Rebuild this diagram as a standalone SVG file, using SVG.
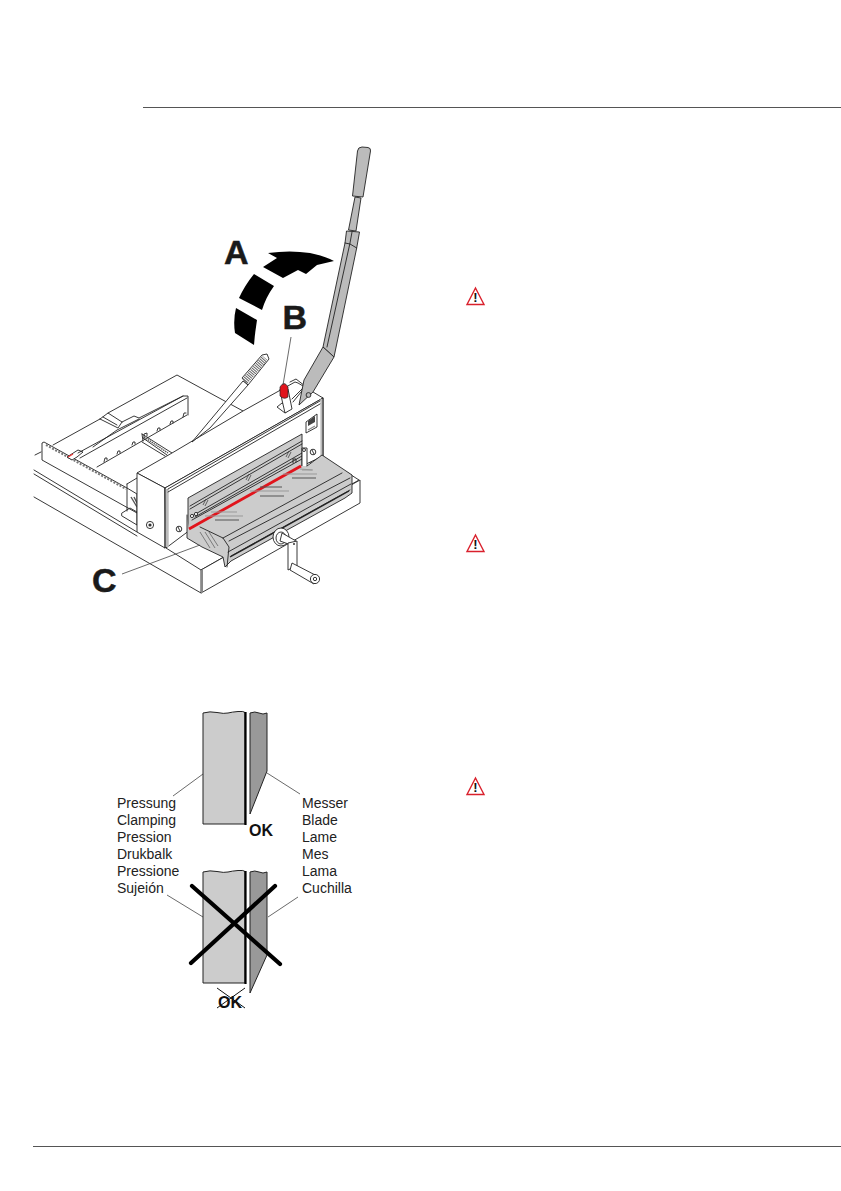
<svg xmlns="http://www.w3.org/2000/svg" width="841" height="1191" viewBox="0 0 841 1191">
<style>
.l{fill:none;stroke:#222;stroke-width:.9;stroke-linejoin:round;stroke-linecap:round}
.t{fill:none;stroke:#444;stroke-width:.8}
.w{fill:#fff;stroke:#222;stroke-width:.9;stroke-linejoin:round}
.g{fill:#bbb;stroke:#222;stroke-width:.9;stroke-linejoin:round}
.k{fill:#000;stroke:none}
.big{font-family:"Liberation Sans",Arial,sans-serif;font-weight:700;font-size:34px;fill:#1a1a1a;stroke:#1a1a1a;stroke-width:.5}
.lab{font-family:"Liberation Sans",Arial,sans-serif;font-size:14px;fill:#222}
.ok{font-family:"Liberation Sans",Arial,sans-serif;font-weight:700;font-size:16px;fill:#111}
.x{stroke:#000;stroke-width:4.2;stroke-linecap:round;fill:none}
.tri{fill:#fff;stroke:#d9202c;stroke-width:1.4;stroke-linejoin:miter}
.ex{font-family:"Liberation Sans",Arial,sans-serif;font-weight:700;font-size:13px;fill:#111;text-anchor:middle}
</style>
<defs>
<g id="warn"><polygon class="tri" points="475.5,288 484,304.5 467,304.500"/><text class="ex" x="475.500" y="302">!</text></g>
</defs>

<g id="rules" stroke="#555" stroke-width="1">
<line x1="143" y1="107.500" x2="841" y2="107.500"/>
<line x1="33" y1="1146.500" x2="841" y2="1146.500"/>
</g>

<g id="machine">
<!-- back table and rails -->
<path class="l" d="M35 455L41 452M53 445L100 419M108 413L177 375L243 411M34 470L137 532M34 474L137 536M34 497L201 593"/>
<!-- fence -->
<path class="w" d="M42 443L44 442L127 488L137 494V513L42 460Z"/>
<path d="M46 445L126 489" stroke="#777" stroke-width="2" stroke-dasharray="2 1.500" fill="none"/>
<path class="w" d="M67 457L78 450L83 452L77 457L72 460Z"/>
<path d="M68 457L73 454" stroke="#e33" stroke-width="1.300"/>
<!-- gauge -->
<path class="l" d="M100 419L118 428L122 422L134 416L139 418L183 396L188 396V415M100 419L108 413L122 422M103 417L117 425"/>
<path class="l" d="M78 453L183 396M80 458L187 398M93 447L117 430L139 419M97 467L187 415"/>
<path class="l" d="M104 462L105 458H107V460M117 454L118 451H120V453M132 445L133 442H135V444M144 438V434L147 433V436M157 431L158 428H160V430M170 424L171 421H173V423M183 417L184 413H186"/>
<path class="l" d="M142 434L172 453M143 438L167 455M142 442L165 456M142 434L143 441"/>
<path d="M144 437L168 453" stroke="#555" stroke-width="1.400" stroke-dasharray="1.500 .8" fill="none"/>
<path class="l" d="M127 484L137 478M127 484V511M122 513L130 508L137 512V525L122 516Z"/>
<path d="M131 497L137 507M134 497L137 503" stroke="#555" stroke-width="1.400" fill="none"/>
<!-- base -->
<path class="w" d="M166 548L201 570L359 480L348 473L300 460L166 540Z"/>
<path class="w" d="M201 570V593L360 503V480L201 570Z"/>
<line x1="202" y1="570" x2="202" y2="593" stroke="#888" stroke-width="2"/>
<!-- head -->
<path class="w" d="M137 473L172 453L243 411L277 392L295 382L298 383L323 398L165 488Z"/>
<path class="w" d="M137 473L165 488V548L137 532Z"/>
<path class="w" d="M165 488L323 398V456L302 466L190 530L166 548Z"/>
<path d="M167 489V547" stroke="#bbb" stroke-width="3.400" fill="none"/>
<path d="M321.500 399V456" stroke="#bbb" stroke-width="2.200" fill="none"/>
<path class="l" d="M165 488V548M323 398V456M168 489L320 401M168 492L320 404"/>
<circle class="w" cx="150" cy="525" r="3.600"/><circle cx="150" cy="525" r="1.600" fill="#333"/>
<circle class="w" cx="179" cy="529" r="2.800"/><path class="l" d="M178 527l2 4"/>
<circle class="w" cx="313" cy="452" r="2.800"/><path class="l" d="M312 450l2 4"/>
<!-- logo plate -->
<path class="w" d="M306 422L317 414V427L306 433Z"/>
<path d="M308 421L315 416V422L308 426Z" fill="#444"/>
<path d="M308 430L315 426" stroke="#888" stroke-width="1.200"/>
<!-- window panel -->
<path d="M188 498L302 434V467L188 530Z" fill="#ccc" stroke="#222" stroke-width=".9"/>
<path class="l" d="M190 506L302 441M190 509L302 444M192 516L302 453M195 517L302 456M192 520L302 459"/>
<path d="M203 505l3-6M205 506l3-6M246 480l3-6M248 481l3-6M286 457l3-6M288 458l3-6" stroke="#444" stroke-width=".8" fill="none"/>
<circle class="w" cx="192" cy="516" r="1.600"/><circle class="w" cx="196" cy="514" r="1.600"/>
<path class="w" d="M302 448H307V468H302Z"/>
<circle class="w" cx="304" cy="450" r="1.500"/>
<path class="l" d="M293 463v-4h3v3"/>
<!-- clamp -->
<path d="M187 517L189 529L301 466L307 466L322 455L352 475V493L345 498L231 561L225 567L223 557L202 547L187 538Z" fill="#ccc" stroke="none"/>
<path class="l" d="M187 515V538L202 547L223 557L225 567L231 561L345 498L352 493V475L322 455L307 466"/>
<path class="l" d="M200 527L223 538L229 547L227 567M223 538L342 473M229 541L350 478M228 552L351 484M231 556L350 490"/>
<path d="M230 557L349 491" stroke="#222" stroke-width="1.400" fill="none"/>
<path d="M189 529L301 466" stroke="#e1141c" stroke-width="2.800" fill="none"/>
<path d="M211 512h26M205 516h38M250 491h39M300 469l13 1M283 474h34M302 470h10" stroke="#999" stroke-width="1" fill="none"/>
<path d="M215 520h24M260 487h22M260 496h24M292 478h24" stroke="#555" stroke-width="1" fill="none"/>
<path d="M200 532L210 548M205 532L215 548M209 532L218 546" stroke="#666" stroke-width=".8" fill="none"/>
<!-- crank -->
<ellipse class="w" cx="281" cy="537" rx="8" ry="9"/>
<ellipse class="w" cx="281" cy="538" rx="5" ry="6"/>
<path class="w" d="M282 533L296 541L294 546L280 541Z"/>
<path class="w" d="M288 543L297 541V569L292 568L288 570Z"/>
<path class="w" d="M292 563L319 577L314 584L290 570Z"/>
<circle class="w" cx="315" cy="579" r="4.600"/><circle class="w" cx="315" cy="579" r="1.700"/>
<circle cx="294" cy="544" r="1" fill="#333"/>
<!-- rod -->
<path class="w" d="M243 381L248 385L210 428L192 442Z"/>
<path class="w" d="M242 378L262 355L267 354L269 359L248 385Z"/>
<path d="M245 381L265 358" stroke="#666" stroke-width="7" stroke-dasharray="1 1" fill="none"/>
<!-- red lever -->
<path class="w" d="M277 407L282 403L290 409L285 413Z"/>
<path class="w" d="M280 389L288 389L292 409L285 413L282 400Z"/>
<path d="M280 396V387Q284 380 288 387V397Q284 400 280 396Z" fill="#e1141c" stroke="#222" stroke-width=".7"/>
<path class="l" d="M290 382L296 379L305 386L292 399M293 402L310 381"/>
<!-- main lever -->
<path class="g" d="M357.500 151Q358 147 362 147L368 147.500Q371 148 370.500 151L363 197L352.500 196Z"/>
<path class="g" d="M355 197L361 198L356 231L348.500 230Z"/>
<path class="g" d="M346.500 231L359.500 232L356.700 248L334 357L323 347L345 243Z"/>
<path class="g" d="M323 347L334 357L313 392L299 405L304 380Z"/>
<path class="l" d="M352 232L350 243L327 347M345 243L350 244L356.700 248"/>
<circle class="g" cx="308.500" cy="395" r="2.400"/>
</g>

<g id="connectors">
<path class="t" d="M283 385L291 337"/>
<path class="t" d="M122 574L200 545"/>
<path class="t" d="M203 774L173 796M267 773L300 794M167 895L203 917M298 897L268 917"/>
</g>

<g id="motion-arrow">
<path class="k" d="M268 253Q290 250 310 253Q325 256 334 261L317 265L306 274L298 270L283 278L263 267L277 258Z"/>
<path class="k" d="M254 274L274 286Q266 297 262 310L239 298Q245 285 254 274Z"/>
<path class="k" d="M236 308L257 320Q255 332 254 345L235 333Q233 320 236 308Z"/>
</g>

<g id="labels-abc">
<text class="big" x="224" y="264">A</text>
<text class="big" x="282.500" y="329">B</text>
<text class="big" x="92" y="592">C</text>
</g>

<g id="blade-ok">
<path d="M203 713Q210 711 217 712.500T228 713T238 711.500T245 712.500V824H203Z" fill="#ccc" stroke="#222" stroke-width="1"/>
<line x1="245.500" y1="712" x2="245.500" y2="825" stroke="#000" stroke-width="2.200"/>
<path d="M250 713Q255 711 259 713T267 713V771L250 814Z" fill="#999" stroke="#222" stroke-width="1"/>
<text class="ok" x="249" y="836">OK</text>
</g>

<g id="blade-wrong">
<path d="M203 872Q210 870 217 871.500T228 872T238 870.500T245 871.500V983H203Z" fill="#ccc" stroke="#222" stroke-width="1"/>
<line x1="245.500" y1="871" x2="245.500" y2="984" stroke="#000" stroke-width="2.200"/>
<path d="M250 872Q255 870 259 872T267 872V955L250 993Z" fill="#999" stroke="#222" stroke-width="1"/>
<line class="x" x1="192" y1="886" x2="280" y2="964"/>
<line class="x" x1="275" y1="886" x2="191" y2="963"/>
<text class="ok" x="218" y="1008">OK</text>
<path d="M217 988L245 1008M245 988L217 1008" stroke="#111" stroke-width="1" fill="none"/>
</g>

<g id="labels-left" class="lab">
<text x="117" y="808">Pressung</text>
<text x="117" y="825">Clamping</text>
<text x="117" y="842">Pression</text>
<text x="117" y="859">Drukbalk</text>
<text x="117" y="876">Pressione</text>
<text x="117" y="893">Sujeión</text>
</g>
<g id="labels-right" class="lab">
<text x="302" y="808">Messer</text>
<text x="302" y="825">Blade</text>
<text x="302" y="842">Lame</text>
<text x="302" y="859">Mes</text>
<text x="302" y="876">Lama</text>
<text x="302" y="893">Cuchilla</text>
</g>

<g id="warning-1"><use href="#warn"/></g>
<g id="warning-2"><use href="#warn" y="247"/></g>
<g id="warning-3"><use href="#warn" y="490"/></g>
</svg>
